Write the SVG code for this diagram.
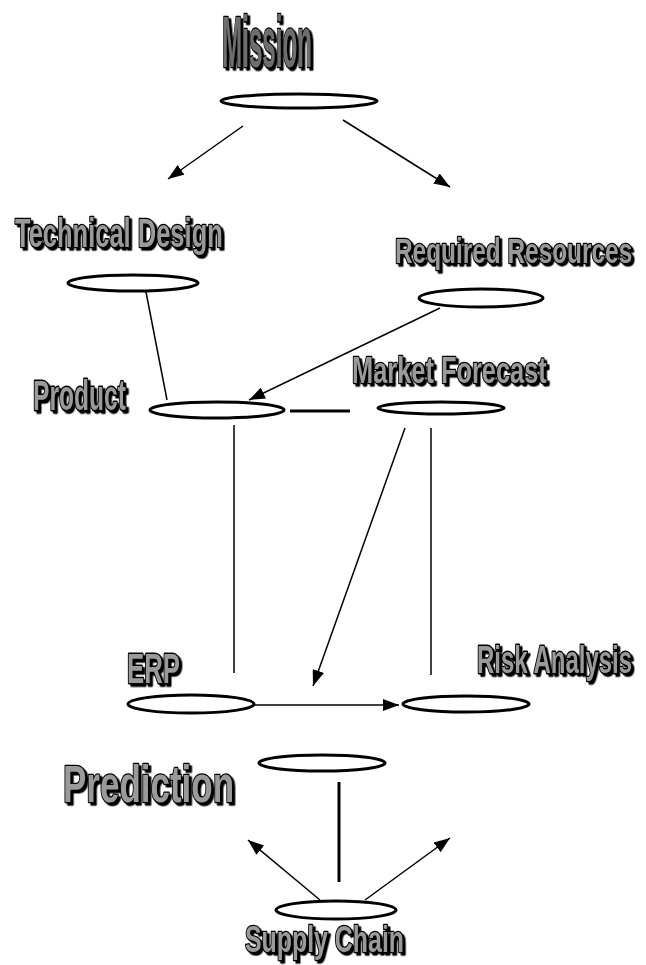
<svg xmlns="http://www.w3.org/2000/svg" width="646" height="965" viewBox="0 0 646 965">
  <defs>
    <style>
      .node ellipse { fill: #ffffff; stroke: #000000; stroke-width: 3; }
      .lbl { filter: url(#shadow); }
      .lbl text { font-family: "Liberation Sans", Arial, sans-serif; font-weight: bold;
             fill: #9a9a9a; stroke: #000000; stroke-width: 1.7; paint-order: stroke; stroke-linejoin: round; }
      .lbl.title text { fill: #6e6e6e; stroke-width: 0.9; }
      .edge { stroke: #000000; stroke-width: 1.5; fill: none; }
      .edge.thick { stroke-width: 3; }
      .arrow { marker-end: url(#head); }
    </style>
    <filter id="shadow" x="-20%" y="-40%" width="140%" height="190%">
      <feDropShadow dx="2.5" dy="2.5" stdDeviation="0.6" flood-color="#000000" flood-opacity="1"/>
    </filter>
    <marker id="head" viewBox="0 0 10 10" refX="10" refY="5" markerWidth="16" markerHeight="12" markerUnits="userSpaceOnUse" orient="auto" preserveAspectRatio="none">
      <path d="M0,0 L10,5 L0,10 z" fill="#000000"/>
    </marker>
  </defs>

  <!-- connectors -->
  <g id="connectors">
    <line class="edge arrow" x1="243" y1="126" x2="168" y2="179"/>
    <line class="edge arrow" x1="343" y1="120" x2="450" y2="187"/>
    <line class="edge" x1="146" y1="292" x2="167" y2="400"/>
    <line class="edge arrow" x1="440" y1="308" x2="249" y2="400"/>
    <line class="edge thick" x1="290" y1="411" x2="350" y2="411"/>
    <line class="edge" x1="234" y1="425" x2="234" y2="673"/>
    <line class="edge" x1="431" y1="428" x2="431" y2="675"/>
    <line class="edge arrow" x1="405" y1="428" x2="313" y2="686"/>
    <line class="edge arrow" x1="255" y1="705" x2="399" y2="705"/>
    <line class="edge thick" x1="339" y1="782" x2="339" y2="882"/>
    <line class="edge arrow" x1="320" y1="900" x2="248" y2="840"/>
    <line class="edge arrow" x1="365" y1="900" x2="450" y2="838"/>
  </g>

  <!-- labels: condensed bold type, stretched vertically -->
  <g id="mission" class="node">
    <g class="lbl title"><text transform="translate(222,67) scale(1,2.95)" font-size="24.2">Mission</text></g>
    <ellipse cx="299" cy="101" rx="78" ry="7"/>
  </g>

  <g id="technical-design" class="node">
    <g class="lbl"><text transform="translate(15,247) scale(1,1.59)" font-size="25.5">Technical Design</text></g>
    <ellipse cx="133" cy="283" rx="65" ry="8"/>
  </g>

  <g id="required-resources" class="node">
    <g class="lbl"><text transform="translate(395,263) scale(1,1.43)" font-size="24.4">Required Resources</text></g>
    <ellipse cx="481" cy="298" rx="62" ry="9"/>
  </g>

  <g id="product" class="node">
    <g class="lbl"><text transform="translate(33,410) scale(1,1.76)" font-size="24.6">Product</text></g>
    <ellipse cx="217" cy="410" rx="67" ry="8"/>
  </g>

  <g id="market-forecast" class="node">
    <g class="lbl"><text transform="translate(352,383) scale(1,1.43)" font-size="25.4">Market Forecast</text></g>
    <ellipse cx="441" cy="408" rx="63" ry="6"/>
  </g>

  <g id="erp" class="node">
    <g class="lbl"><text transform="translate(127,683) scale(1,1.62)" font-size="25.8">ERP</text></g>
    <ellipse cx="191" cy="704" rx="63" ry="9"/>
  </g>

  <g id="risk-analysis" class="node">
    <g class="lbl"><text transform="translate(477,673) scale(1,1.63)" font-size="24">Risk Analysis</text></g>
    <ellipse cx="466" cy="704" rx="63" ry="8"/>
  </g>

  <g id="prediction" class="node">
    <g class="lbl"><text transform="translate(63,802) scale(1,1.48)" font-size="35">Prediction</text></g>
    <ellipse cx="322" cy="763" rx="63" ry="8"/>
  </g>

  <g id="supply-chain" class="node">
    <ellipse cx="336" cy="910" rx="60" ry="9"/>
    <g class="lbl"><text transform="translate(245,952) scale(1,1.52)" font-size="24.9">Supply Chain</text></g>
  </g>
</svg>
